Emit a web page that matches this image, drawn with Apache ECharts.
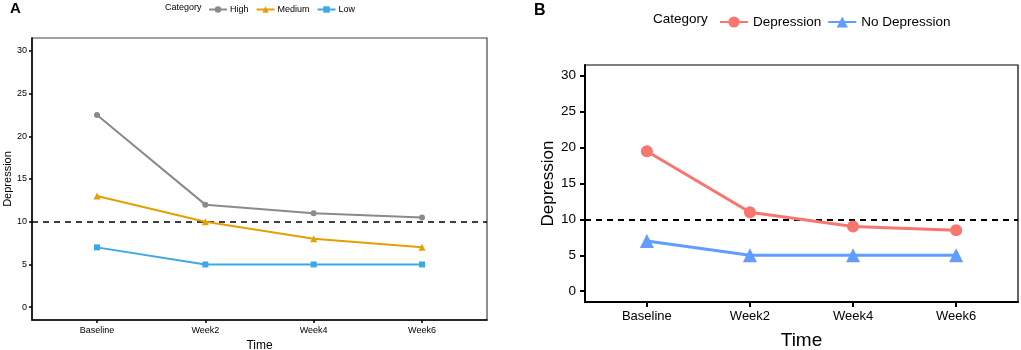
<!DOCTYPE html>
<html><head><meta charset="utf-8">
<script src="https://cdn.jsdelivr.net/npm/echarts@6/dist/echarts.min.js"></script>
<style>html,body{margin:0;padding:0;background:#fff}#c{width:1021px;height:350px}</style>
</head><body><div id="c"></div>
<script>
const categories = ['Baseline', 'Week2', 'Week4', 'Week6'];
const yTicks = [0, 5, 10, 15, 20, 25, 30];
const threshold = 10;
// Panel A
const aHigh = [22.5, 12, 11, 10.5];
const aMedium = [13, 10, 8, 7];
const aLow = [7, 5, 5, 5];
// Panel B
const bDepression = [19.5, 11, 9, 8.5];
const bNoDepression = [7, 5, 5, 5];

const FONT = 'Liberation Sans, Arial, sans-serif';
const pts = arr => arr.map((v, i) => [i, v]);
const xTickVals = categories.map((c, i) => i);

function xAxis(gi, fs, margin, tickLen, nameFs, nameGap, lw) {
  return {
    type: 'value', gridIndex: gi, min: -0.6, max: 3.6,
    name: 'Time', nameLocation: 'middle', nameGap: nameGap,
    nameTextStyle: {fontFamily: FONT, fontSize: nameFs, color: '#000'},
    axisLine: {show: true, onZero: false, lineStyle: {color: '#000', width: lw}},
    axisTick: {show: true, length: tickLen, customValues: xTickVals, lineStyle: {color: '#000', width: lw}},
    axisLabel: {customValues: xTickVals, margin: margin, fontFamily: FONT, fontSize: fs, color: '#000',
      formatter: v => categories[Math.round(v)]},
    splitLine: {show: false}
  };
}
function yAxis(gi, fs, margin, tickLen, nameFs, nameGap, lw) {
  return {
    type: 'value', gridIndex: gi, min: -1.5, max: 31.5,
    name: 'Depression', nameLocation: 'middle', nameGap: nameGap, nameRotate: 90,
    nameTextStyle: {fontFamily: FONT, fontSize: nameFs, color: '#000'},
    axisLine: {show: true, onZero: false, lineStyle: {color: '#000', width: lw}},
    axisTick: {show: true, length: tickLen, customValues: yTicks, lineStyle: {color: '#000', width: lw}},
    axisLabel: {customValues: yTicks, margin: margin, fontFamily: FONT, fontSize: fs, color: '#000'},
    splitLine: {show: false}
  };
}
function line(name, data, xi, color, symbol, size, width, withMark) {
  const s = {
    name: name, type: 'line', xAxisIndex: xi, yAxisIndex: xi, data: pts(data),
    symbol: symbol, symbolSize: size, showSymbol: true,
    lineStyle: {color: color, width: width}, itemStyle: {color: color},
    emphasis: {disabled: true}, z: 3
  };
  if (withMark) {
    s.markLine = {silent: true, symbol: 'none', label: {show: false},
      lineStyle: {color: '#000', type: [6, 5], width: withMark},
      data: [{yAxis: threshold}], z: 2};
  }
  return s;
}

const chart = echarts.init(document.getElementById('c'), null, {renderer: 'canvas'});
chart.setOption({
  animation: false,
  textStyle: {fontFamily: FONT},
  grid: [
    {left: 32, top: 38, width: 455, height: 282, outerBoundsMode: 'none', containLabel: false,
      show: true, borderColor: '#444', borderWidth: 1.2, backgroundColor: 'transparent'},
    {left: 585, top: 65, width: 433, height: 237, outerBoundsMode: 'none', containLabel: false,
      show: true, borderColor: '#000', borderWidth: 1.2, backgroundColor: 'transparent'}
  ],
  xAxis: [xAxis(0, 9, 6, 3, 12, 19, 1.5), xAxis(1, 13, 8, 5, 19, 29, 2)],
  yAxis: [yAxis(0, 9, 5, 3, 11, 18, 1.5), yAxis(1, 13.5, 9, 5, 17, 28, 2)],
  legend: [
    {left: 203, top: 0, itemWidth: 18, itemHeight: 8, itemGap: 7,
      textStyle: {fontFamily: FONT, fontSize: 9, color: '#000', padding: [0, 0, 0, -2]},
      data: ['High', 'Medium', 'Low'], selectedMode: false},
    {left: 714, top: 10, itemWidth: 28, itemHeight: 14, itemGap: 6,
      textStyle: {fontFamily: FONT, fontSize: 13.5, color: '#000'},
      data: ['Depression', 'No Depression'], selectedMode: false}
  ],
  graphic: [
    {type: 'text', left: 10, top: 1, style: {text: 'A', font: 'bold 15px ' + FONT, fill: '#000'}},
    {type: 'text', left: 534, top: 3, style: {text: 'B', font: 'bold 16px ' + FONT, fill: '#000'}},
    {type: 'text', left: 165, top: 3, style: {text: 'Category', font: '9px ' + FONT, fill: '#000'}},
    {type: 'text', left: 653, top: 12, style: {text: 'Category', font: '13.5px ' + FONT, fill: '#000'}}
  ],
  series: [
    line('High', aHigh, 0, '#8a8a8a', 'circle', 6, 2, 1.5),
    line('Medium', aMedium, 0, '#E69F00', 'triangle', 7, 2),
    line('Low', aLow, 0, '#3DA8E6', 'rect', 6, 2),
    line('Depression', bDepression, 1, '#F8766D', 'circle', 12, 3, 2),
    line('No Depression', bNoDepression, 1, '#619CFF', 'triangle', 14, 3)
  ]
});
</script></body></html>
